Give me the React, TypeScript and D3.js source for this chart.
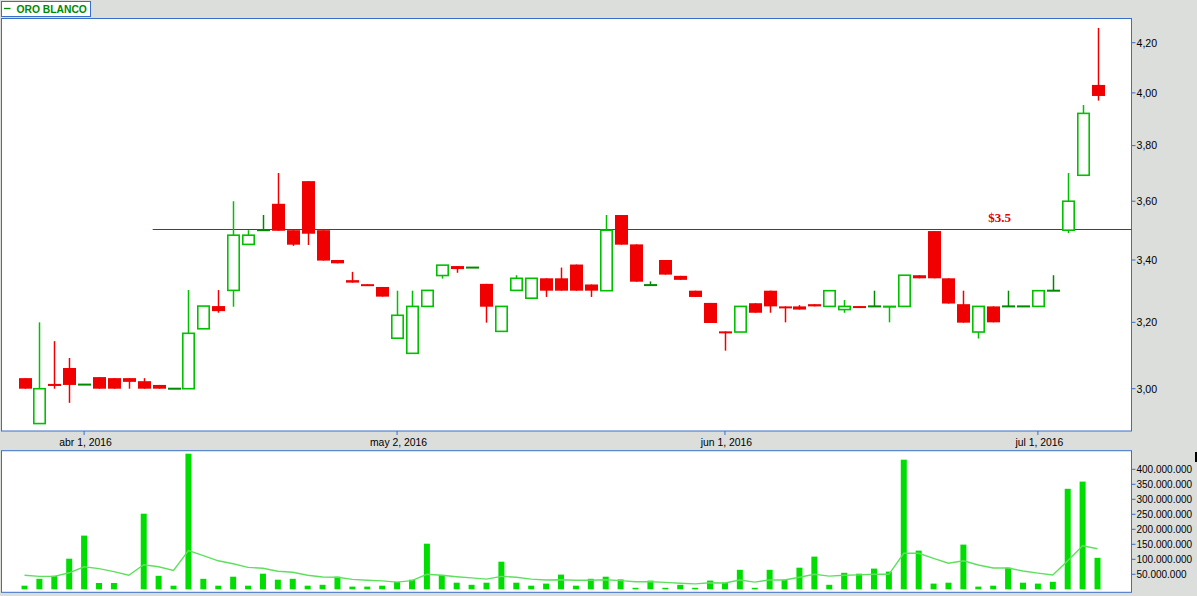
import React from "react";
import * as d3 from "d3";

const dates = [
  "2016-03-28","2016-03-29","2016-03-30","2016-03-31","2016-04-01",
  "2016-04-04","2016-04-05","2016-04-06","2016-04-07","2016-04-08",
  "2016-04-11","2016-04-12","2016-04-13","2016-04-14","2016-04-15",
  "2016-04-18","2016-04-19","2016-04-20","2016-04-21","2016-04-22",
  "2016-04-25","2016-04-26","2016-04-27","2016-04-28","2016-04-29",
  "2016-05-02","2016-05-03","2016-05-04","2016-05-05","2016-05-06",
  "2016-05-09","2016-05-10","2016-05-11","2016-05-12","2016-05-13",
  "2016-05-16","2016-05-17","2016-05-18","2016-05-19","2016-05-20",
  "2016-05-23","2016-05-24","2016-05-25","2016-05-26","2016-05-27",
  "2016-05-30","2016-05-31",
  "2016-06-01","2016-06-02","2016-06-03",
  "2016-06-07","2016-06-08","2016-06-09","2016-06-10",
  "2016-06-13","2016-06-14","2016-06-15","2016-06-16","2016-06-17",
  "2016-06-20","2016-06-21","2016-06-22","2016-06-23","2016-06-24",
  "2016-06-27","2016-06-28","2016-06-29","2016-06-30",
  "2016-07-01",
  "2016-07-05","2016-07-06","2016-07-07","2016-07-08",
];

const opens = [
  3.031,2.90,3.014,3.061,3.012,3.034,3.031,3.031,3.022,3.011,
  3.00,3.00,3.18,3.251,3.301,3.452,3.50,3.591,3.50,3.671,
  3.50,3.40,3.334,3.321,3.312,3.151,3.105,3.25,3.349,3.38,
  3.375,3.322,3.172,3.301,3.276,3.34,3.34,3.385,3.32,3.30,
  3.552,3.452,3.318,3.40,3.348,3.30,3.261,3.172,3.17,3.26,
  3.30,3.25,3.25,3.257,3.25,3.24,3.251,3.25,3.249,3.25,
  3.35,3.497,3.34,3.257,3.17,3.25,3.25,3.25,3.25,3.30,
  3.50,3.692,4.031,
];
const highs = [
  3.031,3.20,3.142,3.091,3.012,3.034,3.031,3.031,3.031,3.011,
  3.00,3.302,3.251,3.302,3.60,3.50,3.552,3.70,3.50,3.671,
  3.50,3.40,3.361,3.321,3.312,3.30,3.30,3.301,3.383,3.38,
  3.375,3.322,3.25,3.35,3.34,3.34,3.375,3.385,3.32,3.552,
  3.552,3.452,3.33,3.40,3.348,3.30,3.261,3.172,3.25,3.26,
  3.30,3.25,3.254,3.257,3.30,3.27,3.251,3.30,3.25,3.35,
  3.35,3.497,3.34,3.30,3.25,3.25,3.30,3.25,3.30,3.35,
  3.70,3.953,4.261,
];
const lows = [
  3.00,2.90,3.00,2.959,3.012,3.00,3.00,3.00,3.00,3.00,
  3.00,3.00,3.18,3.23,3.249,3.452,3.50,3.498,3.447,3.45,
  3.398,3.389,3.326,3.318,3.281,3.151,3.105,3.25,3.339,3.358,
  3.375,3.199,3.172,3.301,3.276,3.28,3.30,3.30,3.28,3.30,
  3.451,3.329,3.318,3.352,3.335,3.28,3.198,3.113,3.17,3.23,
  3.23,3.20,3.24,3.25,3.25,3.23,3.249,3.25,3.20,3.25,
  3.34,3.34,3.259,3.199,3.15,3.20,3.25,3.25,3.25,3.30,
  3.49,3.692,3.97,
];
const closes = [
  3.00,3.00,3.008,3.011,3.012,3.00,3.00,3.02,3.00,3.00,
  3.00,3.166,3.251,3.235,3.483,3.483,3.50,3.498,3.451,3.488,
  3.398,3.389,3.326,3.318,3.281,3.222,3.25,3.301,3.383,3.37,
  3.375,3.249,3.25,3.34,3.34,3.30,3.30,3.30,3.30,3.50,
  3.451,3.329,3.318,3.352,3.335,3.28,3.198,3.168,3.25,3.23,
  3.25,3.246,3.24,3.25,3.30,3.25,3.249,3.25,3.25,3.35,
  3.34,3.34,3.259,3.199,3.25,3.20,3.25,3.25,3.30,3.30,
  3.60,3.921,3.988,
];

// volume in millions
const volumes = [
  12,35,45,102,179,21,21,0,252,45,
  12,452,35,12,42,12,52,32,35,12,
  15,42,9,9,12,25,32,152,48,22,
  15,22,92,22,12,19,49,12,35,42,
  33,5,29,5,15,5,29,22,65,5,
  65,32,72,109,15,55,52,69,59,432,
  129,19,22,149,9,12,72,22,19,25,
  335,359,105,
];
const volumeAvg = [
  47,43,43,55,75,69,59,47,82,75,
  63,129,112,95,85,73,70,60,57,47,
  41,40,33,30,28,24,29,50,47,42,
  38,34,43,40,34,31,32,30,30,32,
  29,25,25,23,20,18,22,21,31,24,
  31,31,40,50,44,47,48,50,50,120,
  120,103,87,95,81,71,71,61,54,48,
  95,145,135,
];

const priceTicks = [3.0, 3.2, 3.4, 3.6, 3.8, 4.0, 4.2];
const volumeTicks = [50, 100, 150, 200, 250, 300, 350, 400];
const monthTickDates = ["2016-04-01", "2016-05-02", "2016-06-01", "2016-07-01"];
const monthTickLabels = ["abr 1, 2016", "may 2, 2016", "jun 1, 2016", "jul 1, 2016"];

const levelValue = 3.5;
const levelLabel = "$3.5";
const levelStartDate = "2016-04-08";
const levelLabelDate = "2016-06-28";
const seriesName = "ORO BLANCO";

const W = 1197, H = 596;
const BG = "#dcdedb";
const BLUE = "#3a6fc9";
const RED = "#f00000";
const GREEN = "#00c000";
const DARKGREEN = "#008a00";
const VOLGREEN = "#00dd00";
const AVGGREEN = "#5ee05e";
const FONT = "'Liberation Sans', Arial, sans-serif";

export default function App() {
  const pL = 1.5, pR = 1131.5, pT = 18.5, pB = 431;
  const vT = 450.7, vB = 592.3;

  const step = 14.903;
  const x = d3.scaleBand<string>().domain(dates).range([17.05, 17.05 + dates.length * step]).padding(0);
  const xc = (d: string) => (x(d) as number) + x.bandwidth() / 2;

  const pxPerLn = 1028.3;
  const y0 = 388.7;
  const lo = 3.0 * Math.exp(-(pB - y0) / pxPerLn);
  const hi = 3.0 * Math.exp((y0 - pT) / pxPerLn);
  const y = d3.scaleLog().domain([lo, hi]).range([pB, pT]);

  const vy = d3.scaleLinear().domain([0, 462]).range([589.3, vT]);

  const bodyW = 13;
  const hollowW = 11.4;

  const avgLine = d3.line<number>()
    .x((_, i) => xc(dates[i]))
    .y((v) => vy(v));

  const fmtPrice = (v: number) => v.toFixed(2).replace(".", ",");
  const fmtVol = (v: number) => d3.format(",")(v * 1e6).replace(/,/g, ".");
  const levelY = Math.round(y(levelValue)) - 0.5;

  return (
    <svg width={W} height={H} style={{ position: "absolute", left: 0, top: 0, display: "block" }}
      fontFamily={FONT}>
      <rect x={0} y={0} width={W} height={H} fill={BG} />

      {/* legend */}
      <rect x={1.5} y={1.5} width={89} height={15} fill="#fff" stroke={BLUE} strokeWidth={1} />
      <line x1={4} x2={10.5} y1={8.5} y2={8.5} stroke={DARKGREEN} strokeWidth={1.3} />
      <text x={16.5} y={13} fontSize={10.3} fontWeight="bold" fill={DARKGREEN}>{seriesName}</text>

      {/* price panel */}
      <rect x={pL} y={pT} width={pR - pL} height={pB - pT} fill="#fff" stroke={BLUE} strokeWidth={1} />

      {/* level line */}
      <line x1={(x(levelStartDate) as number) + 1.5} x2={pR} y1={levelY} y2={levelY}
        stroke="#e00000" strokeWidth={1} />
      <text x={xc(levelLabelDate) - 5} y={levelY - 8} fontSize={13} fontWeight="bold"
        fontFamily="'Liberation Serif', 'Times New Roman', serif" fill="#e00000">{levelLabel}</text>

      {/* candles */}
      {dates.map((d, i) => {
        const o = opens[i], c = closes[i], h = highs[i], l = lows[i];
        const cx = Math.round(xc(d)) + 0.5;
        const up = c > o;
        const flat = c === o;
        const col = flat ? DARKGREEN : up ? GREEN : RED;
        const top = y(Math.max(o, c));
        const bot = y(Math.min(o, c));
        const bh = Math.max(bot - top, 2);
        return (
          <g key={d}>
            <line x1={cx} x2={cx} y1={y(h)} y2={y(l)} stroke={col} strokeWidth={1.5} />
            {flat ? (
              <rect x={cx - bodyW / 2} y={top - 1} width={bodyW} height={2} fill={col} />
            ) : up ? (
              <rect x={cx - hollowW / 2} y={top} width={hollowW} height={Math.max(bot - top, 0.5)}
                fill="#fff" stroke={col} strokeWidth={1.6} />
            ) : (
              <rect x={cx - bodyW / 2} y={top} width={bodyW} height={bh} fill={col} />
            )}
          </g>
        );
      })}

      {/* price axis */}
      {priceTicks.map((t) => (
        <g key={t}>
          <line x1={pR} x2={pR + 4} y1={y(t)} y2={y(t)} stroke={BLUE} strokeWidth={1} />
          <text x={pR + 5} y={y(t)} dy="0.36em" fontSize={10.6} fill="#000">{fmtPrice(t)}</text>
        </g>
      ))}

      {/* date axis */}
      {monthTickDates.map((d, i) => (
        <g key={d}>
          <line x1={xc(d)} x2={xc(d)} y1={pB} y2={pB + 4} stroke={BLUE} strokeWidth={1} />
          <text x={xc(d) + 1.5} y={445.5} textAnchor="middle" fontSize={10.4} fill="#000">{monthTickLabels[i]}</text>
        </g>
      ))}

      {/* volume panel */}
      <rect x={pL} y={vT} width={pR - pL} height={vB - vT} fill="#fff" stroke={BLUE} strokeWidth={1} />
      {dates.map((d, i) => (
        volumes[i] > 0 ? (
          <rect key={d} x={xc(d) - 3} y={vy(volumes[i])} width={6} height={vy(0) - vy(volumes[i])} fill={VOLGREEN} />
        ) : null
      ))}
      <path d={avgLine(volumeAvg) || ""} fill="none" stroke={AVGGREEN} strokeWidth={1.4} />

      {volumeTicks.map((t) => (
        <g key={t}>
          <line x1={pR} x2={pR + 4} y1={vy(t)} y2={vy(t)} stroke={BLUE} strokeWidth={1} />
          <text x={pR + 5} y={vy(t)} dy="0.36em" fontSize={10} fill="#000">{fmtVol(t)}</text>
        </g>
      ))}
      <rect x={1195} y={452} width={2} height={10} fill="#000" />
    </svg>
  );
}
